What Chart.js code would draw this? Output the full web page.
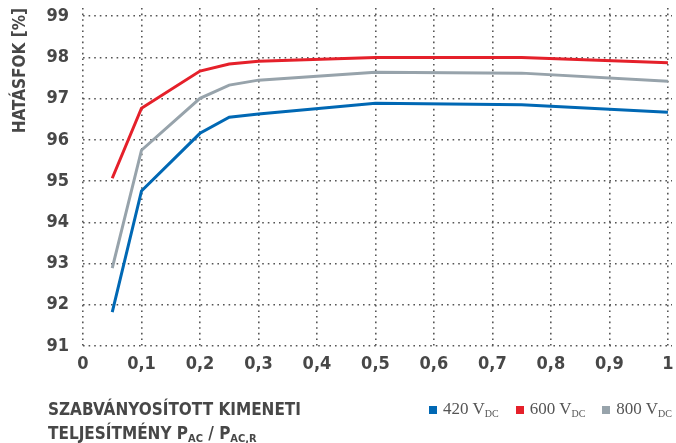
<!DOCTYPE html>
<html>
<head>
<meta charset="utf-8">
<script src="https://cdn.jsdelivr.net/npm/chart.js@4"></script>
<style>
  html, body { margin: 0; padding: 0; background: #fff; }
  #wrap { position: relative; width: 676px; height: 443px; }
  #xtitle {
    position: absolute; left: 48px; top: 397px;
    font-family: 'DejaVu Sans Condensed', 'Liberation Sans Narrow', sans-serif;
    font-weight: bold; font-size: 17px; line-height: 24px; color: #474747;
  }
  #xtitle sub { font-size: 11px; vertical-align: -3px; }
  #legend {
    position: absolute; right: 4px; top: 399px;
    font-family: 'Liberation Serif', 'DejaVu Serif', serif;
    font-size: 17px; color: #555;
  }
  #legend span.item { margin-left: 17px; }
  #legend i { display: inline-block; width: 8px; height: 8px; margin-right: 6px; }
  #legend sub { font-size: 10px; vertical-align: -3px; }
</style>
</head>
<body>
<div id="wrap">
  <canvas id="effChart" width="676" height="443"></canvas>
  <div id="xtitle">SZABVÁNYOSÍTOTT KIMENETI<br>TELJESÍTMÉNY P<sub>AC</sub> / P<sub>AC,R</sub></div>
  <div id="legend"></div>
</div>
<script>
var loads = [0.05, 0.1, 0.2, 0.25, 0.3, 0.5, 0.75, 1.0];
var eff420 = [91.82, 94.76, 96.16, 96.55, 96.63, 96.89, 96.85, 96.67];
var eff600 = [95.07, 96.77, 97.67, 97.84, 97.91, 98.0, 98.0, 97.87];
var eff800 = [92.89, 95.75, 97.01, 97.33, 97.45, 97.64, 97.62, 97.42];
var seriesNames = ['420', '600', '800'];
var seriesColors = ['#0068b4', '#e5202a', '#97a3ab'];
var xTicks = [0, 0.1, 0.2, 0.3, 0.4, 0.5, 0.6, 0.7, 0.8, 0.9, 1];
var yTicks = [91, 92, 93, 94, 95, 96, 97, 98, 99];

function pts(vals) {
    return loads.map(function (x, i) { return { x: x, y: vals[i] }; });
}

var legend = document.getElementById('legend');
seriesNames.forEach(function (n, i) {
    legend.innerHTML += '<span class="item"><i style="background:' + seriesColors[i] + '"></i>' +
        n + ' V<sub>DC</sub></span>';
});

var tickFont = { family: "'DejaVu Sans Condensed', 'Liberation Sans Narrow', sans-serif", size: 18, weight: 'bold' };
var gridStyle = { color: '#555', lineWidth: 1.6, drawTicks: false };

var ctx = document.getElementById('effChart').getContext('2d');
var effChart = new Chart(ctx, {
    type: 'line',
    data: {
        datasets: [eff420, eff600, eff800].map(function (v, i) {
            return {
                label: seriesNames[i] + ' VDC',
                data: pts(v),
                borderColor: seriesColors[i],
                backgroundColor: seriesColors[i],
                borderWidth: 3,
                pointRadius: 0,
                tension: 0
            };
        })
    },
    options: {
        responsive: false,
        animation: false,
        layout: { padding: { left: 0, top: 8, right: 4, bottom: 67 } },
        plugins: { legend: { display: false }, tooltip: { enabled: false } },
        scales: {
            x: {
                type: 'linear',
                min: 0,
                max: 1.007,
                afterBuildTicks: function (s) { s.ticks = xTicks.map(function (v) { return { value: v }; }); },
                afterFit: function (s) { s.height = 30; s.paddingLeft = 0; s.paddingRight = 0; },
                border: { display: false, dash: [1.6, 4] },
                grid: gridStyle,
                ticks: {
                    color: '#474747', font: tickFont, padding: 8, maxRotation: 0,
                    callback: function (v) { return String(v).replace('.', ','); }
                }
            },
            y: {
                min: 91,
                max: 99.2,
                afterBuildTicks: function (s) { s.ticks = yTicks.map(function (v) { return { value: v }; }); },
                afterFit: function (s) { s.width = 83; s.paddingTop = 0; s.paddingBottom = 0; },
                border: { display: false, dash: [1.6, 4] },
                grid: gridStyle,
                ticks: { color: '#474747', font: tickFont, padding: 14 },
                title: {
                    display: true,
                    text: 'HATÁSFOK [%]',
                    align: 'end',
                    color: '#474747',
                    font: { family: tickFont.family, size: 17, weight: 'bold' },
                    padding: { top: 10, bottom: 0 }
                }
            }
        }
    }
});
</script>
</body>
</html>
